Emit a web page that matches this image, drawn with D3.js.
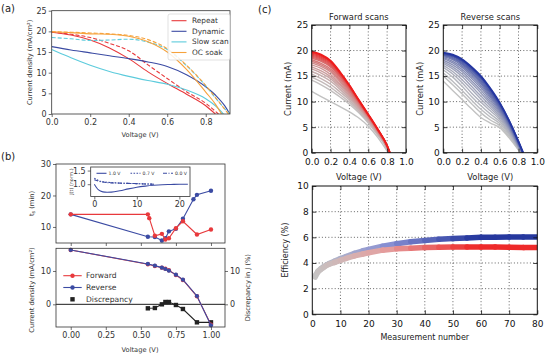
<!DOCTYPE html>
<html><head><meta charset="utf-8">
<script src="https://cdn.jsdelivr.net/npm/d3@7"></script>
<style>body{margin:0;background:#fff} svg{display:block} text{font-family:"DejaVu Sans",sans-serif}</style>
</head><body><svg id="c" width="552" height="355"></svg>
<script>
// ---------------- DATA ----------------
// (a)
const aLegend = ["Repeat","Dynamic","Slow scan","OC soak"];
const aColors = ["#e8393c","#3b4ba3","#5ccbdc","#f6a23c"];
const repeatSolid = [[0,19.8],[0.1,19.1],[0.2,17.9],[0.3,16.0],[0.4,13.4],[0.5,10.2],[0.6,7.4],[0.7,4.8],[0.8,2.0],[0.85,0]];
const repeatDashed = [[0,19.8],[0.1,19.3],[0.2,18.5],[0.3,17.1],[0.4,15.3],[0.5,11.9],[0.6,8.6],[0.7,5.4],[0.8,2.6],[0.866,0]];
const dynamicSolid = [[0,16.3],[0.1,15.5],[0.2,14.8],[0.3,14.1],[0.4,13.4],[0.5,12.6],[0.6,11.5],[0.7,9.5],[0.8,6.6],[0.85,4.6],[0.9,1.9],[0.925,0]];
const slowSolid = [[0,15.6],[0.05,14.6],[0.1,13.6],[0.2,11.8],[0.3,10.3],[0.4,9.1],[0.5,8.1],[0.6,7.2],[0.7,5.8],[0.8,3.7],[0.85,2.0],[0.892,0]];
const slowDashed = [[0,18.5],[0.1,18.2],[0.2,17.8],[0.3,17.9],[0.4,18.1],[0.5,17.4],[0.6,15.6],[0.7,11.7],[0.8,6.8],[0.85,3.9],[0.9,1.2],[0.925,0]];
const ocSolid = [[0,19.9],[0.1,19.7],[0.2,19.4],[0.3,19.3],[0.4,18.8],[0.5,17.5],[0.6,15.0],[0.7,10.8],[0.8,5.3],[0.85,2.4],[0.882,0]];
const ocDashed = [[0,19.9],[0.1,19.8],[0.2,19.6],[0.3,19.4],[0.4,19.0],[0.5,18.0],[0.6,15.8],[0.7,11.8],[0.8,6.9],[0.85,4.0],[0.9,1.1],[0.918,0]];
const aXTicks = [0,0.2,0.4,0.6,0.8];
const aYTicks = [0,5,10,15,20,25];

// (b) top: stabilisation time
const bVoltF = [0,0.55,0.56,0.6,0.65,0.675,0.7,0.75,0.8,0.9,1.0];
const bTsF = [14.0,14.0,12.8,7.2,7.8,6.0,6.4,9.6,11.8,7.6,9.2];
const bVoltR = [0,0.55,0.6,0.65,0.675,0.7,0.75,0.8,0.875,0.9,1.0];
const bTsR = [14.0,6.9,6.8,5.7,6.4,8.6,9.4,12.6,18.8,20.2,21.5];
// (b) inset
const insetT1 = [0,0.5,1,2,3,4,6,8,10,12,14,16,18,20,22];
const insetJ1 = [1.0,0.88,0.79,0.72,0.705,0.71,0.76,0.83,0.89,0.93,0.96,0.98,0.99,1.0,1.0];
const insetT07 = [0,1,2,3,4,6,8,10,12,14];
const insetJ07 = [1.22,1.13,1.09,1.07,1.06,1.04,1.03,1.02,1.01,1.0];
const insetT00 = [0,1,2,3,4,6,8,10,12,14];
const insetJ00 = [1.16,1.11,1.08,1.06,1.05,1.04,1.03,1.02,1.01,1.0];
const insetLabels = ["1.0 V","0.7 V","0.0 V"];
// (b) bottom
const bVoltJ = [0,0.55,0.6,0.65,0.675,0.7,0.75,0.8,0.9,1.0];
const bJF = [16.3,12.0,11.5,11.0,10.7,10.2,8.8,7.3,2.4,-6.1];
const bJR = [16.3,12.1,11.6,11.0,10.6,10.1,8.9,7.4,2.5,-6.3];
const bVoltD = [0.55,0.6,0.65,0.675,0.7,0.75,0.8,0.9,1.0];
const bDisc = [-1.2,-1.1,0.0,0.7,0.7,-0.2,-1.4,-5.4,-5.4];
const bXTicks = [0,0.25,0.5,0.75,1.0];
const bLegend = ["Forward","Reverse","Discrepancy"];

// (c) J-V scan families (V grid + per-scan currents + Voc)
const scanV = [0,0.1,0.2,0.3,0.4,0.5,0.6,0.7,0.8];
const fwdScans = [
 [12.0,11.0,10.0,9.0,8.0,6.8,5.2,3.0,0.3],
 [14.2,13.3,12.2,10.9,9.5,7.8,5.8,3.4,0.6],
 [14.8,13.9,12.8,11.4,9.9,8.1,6.0,3.6,0.7],
 [15.4,14.5,13.4,11.9,10.3,8.3,6.2,3.7,0.8],
 [15.9,15.1,14.0,12.4,10.6,8.6,6.4,3.8,0.85],
 [16.4,15.6,14.5,12.8,10.9,8.8,6.5,3.9,0.9],
 [16.8,16.0,14.9,13.2,11.2,9.0,6.7,4.0,1.0],
 [17.2,16.5,15.3,13.5,11.5,9.2,6.8,4.1,1.0],
 [17.6,16.9,15.8,13.9,11.7,9.4,6.9,4.2,1.1],
 [17.9,17.2,16.1,14.2,12.0,9.6,7.0,4.2,1.1],
 [18.2,17.5,16.4,14.5,12.2,9.7,7.1,4.3,1.2],
 [18.5,17.9,16.8,14.8,12.4,9.8,7.2,4.4,1.2],
 [18.7,18.1,17.0,15.0,12.6,9.9,7.2,4.4,1.2],
 [18.9,18.3,17.2,15.2,12.8,10.0,7.3,4.5,1.3],
 [19.1,18.5,17.4,15.4,12.9,10.1,7.3,4.5,1.3],
 [19.3,18.7,17.6,15.5,13.0,10.2,7.4,4.5,1.3],
 [19.5,18.9,17.8,15.6,13.1,10.2,7.4,4.6,1.4],
 [19.65,19.1,17.9,15.7,13.2,10.3,7.5,4.6,1.4],
 [19.8,19.2,18.0,15.8,13.2,10.3,7.5,4.6,1.4]
];
const fwdVoc = [0.81,0.812,0.814,0.816,0.818,0.82,0.82,0.822,0.822,0.824,0.824,0.825,0.826,0.827,0.828,0.828,0.829,0.83,0.83];
const revScans = [
 [14.0,12.2,10.4,8.6,6.9,5.8,4.9,2.9,0.5],
 [15.0,13.3,11.5,9.6,7.8,6.4,5.3,3.2,0.6],
 [15.6,14.0,12.2,10.3,8.5,7.0,5.7,3.5,0.7],
 [16.2,14.8,13.0,11.0,9.2,7.6,6.1,3.8,0.8],
 [16.7,15.4,13.7,11.7,9.9,8.2,6.5,4.0,0.9],
 [17.1,15.9,14.3,12.4,10.5,8.7,6.9,4.3,1.0],
 [17.5,16.4,14.9,13.0,11.1,9.2,7.2,4.5,1.1],
 [17.8,16.8,15.4,13.6,11.7,9.6,7.5,4.7,1.2],
 [18.1,17.2,15.9,14.1,12.2,10.0,7.8,4.9,1.3],
 [18.4,17.6,16.3,14.6,12.7,10.4,8.1,5.1,1.4],
 [18.6,17.9,16.7,15.0,13.1,10.8,8.3,5.3,1.5],
 [18.8,18.2,17.0,15.4,13.5,11.1,8.6,5.5,1.6],
 [19.0,18.4,17.3,15.7,13.8,11.4,8.8,5.6,1.7],
 [19.1,18.6,17.5,16.0,14.1,11.7,9.0,5.8,1.8],
 [19.2,18.8,17.7,16.2,14.4,11.9,9.2,5.9,1.9],
 [19.3,18.9,17.9,16.4,14.6,12.2,9.4,6.0,2.0],
 [19.4,19.0,18.0,16.6,14.8,12.4,9.6,6.2,2.1],
 [19.5,19.1,18.2,16.7,14.9,12.5,9.7,6.3,2.2],
 [19.6,19.2,18.3,16.8,15.0,12.6,9.8,6.3,2.2]
];
const revVoc = [0.82,0.822,0.824,0.826,0.828,0.83,0.832,0.834,0.836,0.838,0.84,0.842,0.843,0.844,0.845,0.846,0.847,0.848,0.85];
const cVTicks = [0,0.2,0.4,0.6,0.8,1.0];
const cJTicks = [0,5,10,15,20,25];
// (c) efficiency vs measurement number
const effN = [1,2,3,4,5,6,8,10,12,15,18,20,25,30,35,40,45,50,55,60,65,70,75,80];
const effF = [2.9,3.3,3.5,3.65,3.8,3.9,4.05,4.2,4.35,4.55,4.7,4.8,5.0,5.1,5.15,5.2,5.22,5.24,5.25,5.25,5.24,5.22,5.2,5.2];
const effR = [3.0,3.35,3.55,3.7,3.85,3.95,4.15,4.35,4.5,4.75,4.95,5.05,5.3,5.5,5.65,5.75,5.85,5.9,5.95,6.0,6.0,6.02,6.02,6.02];
const effXTicks = [0,10,20,30,40,50,60,70,80];
const effYTicks = [0,2,4,6,8,10];

// ---------------- DRAWING ----------------
const svg = d3.select("#c");
svg.append("rect").attr("width",552).attr("height",355).attr("fill","#fff");
const FONT_C = "DejaVu Sans";
const FONT_AB = "Liberation Sans";
const AX = "#333";
const TICK_AB = 8, LAB_AB = 6.7;
let clipId = 0;
function clip(x0,y0,x1,y1){
  const id = "clip"+(clipId++);
  svg.append("clipPath").attr("id",id).append("rect").attr("x",x0).attr("y",y0).attr("width",x1-x0).attr("height",y1-y0);
  return "url(#"+id+")";
}
function styleAxis(g, fs, color, sw, font){
  g.attr("font-family",font||FONT_AB).attr("font-size",fs);
  g.select(".domain").remove();
  g.selectAll("text").attr("fill",color);
  g.selectAll("line").attr("stroke",color).attr("stroke-width",sw||0.7);
}
function txt(x,y,s,fs,anchor,rot,fill,font){
  const t = svg.append("text").attr("x",x).attr("y",y).attr("font-size",fs).attr("text-anchor",anchor||"middle")
    .attr("dominant-baseline","central").attr("fill",fill||"#222").attr("font-family",font||FONT_AB).text(s);
  if(rot) t.attr("transform",`rotate(${rot},${x},${y})`);
  return t;
}
const pts = (xs,ys)=>xs.map((v,i)=>[v,ys[i]]);

// panel labels
txt(1,8,"(a)",10,"start",0,"#222",FONT_C);
txt(1,156,"(b)",10,"start",0,"#222",FONT_C);
txt(258,9,"(c)",10,"start",0,"#222",FONT_C);

// ===== (a) =====
{
  const L=51.7,R=230,T=10.7,B=114;
  const x=d3.scaleLinear([0,0.926],[L,R]), y=d3.scaleLinear([0,25],[B,T]);
  const gx=svg.append("g").attr("transform",`translate(0,${B})`)
    .call(d3.axisBottom(x).tickValues(aXTicks).tickFormat(d3.format(".1f")).tickSize(3).tickPadding(2));
  styleAxis(gx,TICK_AB,AX);
  const gy=svg.append("g").attr("transform",`translate(${L},0)`)
    .call(d3.axisLeft(y).tickValues(aYTicks).tickSize(3).tickPadding(2));
  styleAxis(gy,TICK_AB,AX);
  const cp=clip(L,T,R,B);
  const g=svg.append("g").attr("clip-path",cp);
  const ln=d3.line().x(d=>x(d[0])).y(d=>y(d[1])).curve(d3.curveMonotoneX);
  const series=[[repeatSolid,0,false],[repeatDashed,0,true],[dynamicSolid,1,false],[slowSolid,2,false],[slowDashed,2,true],[ocSolid,3,false],[ocDashed,3,true]];
  series.forEach(([d,c,dash])=>{
    g.append("path").attr("d",ln(d)).attr("fill","none").attr("stroke",aColors[c]).attr("stroke-width",1.1)
     .attr("stroke-dasharray",dash?"4,2":null);
  });
  svg.append("rect").attr("x",L).attr("y",T).attr("width",R-L).attr("height",B-T).attr("fill","none").attr("stroke",AX).attr("stroke-width",0.8);
  // legend
  svg.append("rect").attr("x",168).attr("y",14).attr("width",62).attr("height",46).attr("rx",2)
    .attr("fill","#fff").attr("fill-opacity",0.85).attr("stroke","#ccc").attr("stroke-width",0.6);
  aLegend.forEach((s,i)=>{
    const yy=20.7+i*10.6;
    svg.append("line").attr("x1",171.5).attr("x2",186.5).attr("y1",yy).attr("y2",yy).attr("stroke",aColors[i]).attr("stroke-width",1.1);
    txt(192,yy,s,7.4,"start",0,"#333");
  });
  txt(140,135,"Voltage (V)",LAB_AB,"middle",0,"#333");
  txt(30,62.4,"Current density (mA/cm²)",LAB_AB,"middle",-90,"#333");
}

// ===== (b) =====
const xb=d3.scaleLinear([-0.105,1.1],[56,225]);
const red="#e8393c", blue="#3b4ba3";
{
  // top panel
  const L=56,R=225,T=164,B=243;
  const y=d3.scaleLinear([4.9,30],[B,T]);
  const gx=svg.append("g").attr("transform",`translate(0,${B})`)
    .call(d3.axisBottom(xb).tickValues(bXTicks).tickFormat("").tickSize(3));
  styleAxis(gx,TICK_AB,AX);
  const gy=svg.append("g").attr("transform",`translate(${L},0)`)
    .call(d3.axisLeft(y).tickValues([10,20,30]).tickSize(3).tickPadding(2));
  styleAxis(gy,TICK_AB,AX);
  const ln=d3.line().x(d=>xb(d[0])).y(d=>y(d[1]));
  const g=svg.append("g");
  g.append("path").attr("d",ln(pts(bVoltR,bTsR))).attr("fill","none").attr("stroke",blue).attr("stroke-width",1.1);
  g.selectAll(null).data(pts(bVoltR,bTsR)).join("circle").attr("cx",d=>xb(d[0])).attr("cy",d=>y(d[1])).attr("r",2.2).attr("fill",blue);
  g.append("path").attr("d",ln(pts(bVoltF,bTsF))).attr("fill","none").attr("stroke",red).attr("stroke-width",1.1);
  g.selectAll(null).data(pts(bVoltF,bTsF)).join("circle").attr("cx",d=>xb(d[0])).attr("cy",d=>y(d[1])).attr("r",2.2).attr("fill",red);
  svg.append("rect").attr("x",L).attr("y",T).attr("width",R-L).attr("height",B-T).attr("fill","none").attr("stroke",AX).attr("stroke-width",0.8);
  txt(31.7,203.5,"",LAB_AB,"middle",-90,"#333").call(t=>{
    t.append("tspan").text("t");
    t.append("tspan").attr("font-size",5).attr("dy",1.6).text("s");
    t.append("tspan").attr("dy",-1.6).text(" (min)");
  });

  // inset
  const iL=90.7,iR=190,iT=167,iB=196.5;
  const xi=d3.scaleLinear([-0.85,22.5],[iL,iR]), yi=d3.scaleLinear([0.55,1.63],[iB,iT]);
  svg.append("rect").attr("x",iL).attr("y",iT).attr("width",iR-iL).attr("height",iB-iT).attr("fill","#fff");
  const gix=svg.append("g").attr("transform",`translate(0,${iB})`)
    .call(d3.axisBottom(xi).tickValues([0,10,20]).tickSize(3).tickPadding(2));
  styleAxis(gix,TICK_AB,AX);
  const giy=svg.append("g").attr("transform",`translate(${iL},0)`)
    .call(d3.axisLeft(yi).tickValues([1.0,1.5]).tickFormat(d3.format(".1f")).tickSize(3).tickPadding(2));
  styleAxis(giy,TICK_AB,AX);
  const li=d3.line().x(d=>xi(d[0])).y(d=>yi(d[1])).curve(d3.curveMonotoneX);
  const dashes=[null,"1.6,1.4","4,1.5,1,1.5"];
  const isets=[pts(insetT1,insetJ1),pts(insetT07,insetJ07),pts(insetT00,insetJ00)];
  isets.forEach((d,i)=>svg.append("path").attr("d",li(d)).attr("fill","none").attr("stroke",blue).attr("stroke-width",1.1).attr("stroke-dasharray",dashes[i]));
  const legX=[96.5,130.5,163];
  insetLabels.forEach((s,i)=>{
    svg.append("line").attr("x1",legX[i]).attr("x2",legX[i]+10).attr("y1",173.3).attr("y2",173.3).attr("stroke",blue).attr("stroke-width",1.1).attr("stroke-dasharray",dashes[i]);
    txt(legX[i]+12,173.3,s,4.6,"start",0,"#333");
  });
  svg.append("rect").attr("x",iL).attr("y",iT).attr("width",iR-iL).attr("height",iB-iT).attr("fill","none").attr("stroke",AX).attr("stroke-width",0.8);
  txt(71.5,181.5,"J(t) (norm.)",4.8,"middle",-90,"#333");
}
{
  // bottom panel
  const L=56,R=225,T=248.3,B=327;
  const y=d3.scaleLinear([-6.8,16.8],[B,T]);
  const gx=svg.append("g").attr("transform",`translate(0,${B})`)
    .call(d3.axisBottom(xb).tickValues(bXTicks).tickFormat(d3.format(".2f")).tickSize(3).tickPadding(2));
  styleAxis(gx,TICK_AB,AX);
  const gy=svg.append("g").attr("transform",`translate(${L},0)`)
    .call(d3.axisLeft(y).tickValues([0,10]).tickSize(3).tickPadding(2));
  styleAxis(gy,TICK_AB,AX);
  const gr=svg.append("g").attr("transform",`translate(${R},0)`)
    .call(d3.axisRight(y).tickValues([0,10]).tickSize(3).tickPadding(2));
  styleAxis(gr,TICK_AB,AX);
  svg.append("line").attr("x1",L).attr("x2",R).attr("y1",y(0)).attr("y2",y(0)).attr("stroke","#000").attr("stroke-width",0.9);
  const ln=d3.line().x(d=>xb(d[0])).y(d=>y(d[1]));
  const g=svg.append("g").attr("clip-path",clip(L-3,T-3,R+3,B+3));
  g.append("path").attr("d",ln(pts(bVoltD,bDisc))).attr("fill","none").attr("stroke","#222").attr("stroke-width",1.1);
  g.selectAll(null).data(pts(bVoltD,bDisc)).join("rect").attr("x",d=>xb(d[0])-2.2).attr("y",d=>y(d[1])-2.2).attr("width",4.4).attr("height",4.4).attr("fill","#222");
  g.append("path").attr("d",ln(pts(bVoltJ,bJF))).attr("fill","none").attr("stroke",red).attr("stroke-width",1.1);
  g.selectAll(null).data(pts(bVoltJ,bJF)).join("circle").attr("cx",d=>xb(d[0])).attr("cy",d=>y(d[1])).attr("r",2.2).attr("fill",red);
  g.append("path").attr("d",ln(pts(bVoltJ,bJR))).attr("fill","none").attr("stroke",blue).attr("stroke-width",1.1);
  g.selectAll(null).data(pts(bVoltJ,bJR)).join("circle").attr("cx",d=>xb(d[0])).attr("cy",d=>y(d[1])).attr("r",2.1).attr("fill",blue);
  svg.append("rect").attr("x",L).attr("y",T).attr("width",R-L).attr("height",B-T).attr("fill","none").attr("stroke",AX).attr("stroke-width",0.8);
  const lc=[red,blue,"#222"];
  bLegend.forEach((s,i)=>{
    const yy=275.7+i*11.8;
    if(i<2) svg.append("line").attr("x1",63.3).attr("x2",81.7).attr("y1",yy).attr("y2",yy).attr("stroke",lc[i]).attr("stroke-width",1.1);
    if(i<2) svg.append("circle").attr("cx",72.5).attr("cy",yy).attr("r",2.2).attr("fill",lc[i]);
    else svg.append("rect").attr("x",70.3).attr("y",yy-2.2).attr("width",4.4).attr("height",4.4).attr("fill",lc[i]);
    txt(86,yy,s,7.6,"start",0,"#333");
  });
  txt(140,350,"Voltage (V)",LAB_AB,"middle",0,"#333");
  txt(31.7,290,"Current density (mA/cm²)",LAB_AB,"middle",-90,"#333");
  txt(248,287.6,"Discrepancy in J (%)",LAB_AB,"middle",-90,"#333");
}

// ===== (c) =====
const TICK_C = 9;
function innerAxes(x,y,L,R,T,B,xt,yt,xf,yf){
  const gx=svg.append("g").attr("transform",`translate(0,${B})`).call(d3.axisBottom(x).tickValues(xt).tickFormat(xf).tickSizeInner(-4).tickSizeOuter(0).tickPadding(6));
  styleAxis(gx,TICK_C,"#111",0.8,FONT_C);
  const gt=svg.append("g").attr("transform",`translate(0,${T})`).call(d3.axisTop(x).tickValues(xt).tickFormat("").tickSizeInner(-4).tickSizeOuter(0));
  styleAxis(gt,TICK_C,"#111",0.8,FONT_C);
  const gy=svg.append("g").attr("transform",`translate(${L},0)`).call(d3.axisLeft(y).tickValues(yt).tickFormat(yf).tickSizeInner(-4).tickSizeOuter(0).tickPadding(3.5));
  styleAxis(gy,TICK_C,"#111",0.8,FONT_C);
  const gr=svg.append("g").attr("transform",`translate(${R},0)`).call(d3.axisRight(y).tickValues(yt).tickFormat("").tickSizeInner(-4).tickSizeOuter(0));
  styleAxis(gr,TICK_C,"#111",0.8,FONT_C);
  svg.append("rect").attr("x",L).attr("y",T).attr("width",R-L).attr("height",B-T).attr("fill","none").attr("stroke","#111").attr("stroke-width",1);
}
function grid(x,y,L,R,T,B,xt,yt){
  const g=svg.append("g").attr("stroke","#222").attr("stroke-width",0.7).attr("stroke-dasharray","1,2.2");
  xt.slice(1,-1).forEach(v=>g.append("line").attr("x1",x(v)).attr("x2",x(v)).attr("y1",T).attr("y2",B));
  yt.slice(1,-1).forEach(v=>g.append("line").attr("x1",L).attr("x2",R).attr("y1",y(v)).attr("y2",y(v)));
}
function scanPanel(L,R,title,curves,voc,cEnd){
  const T=25,B=152.7;
  const x=d3.scaleLinear([0,1],[L,R]), y=d3.scaleLinear([0,25],[B,T]);
  grid(x,y,L,R,T,B,cVTicks,cJTicks);
  const g=svg.append("g").attr("clip-path",clip(L,T,R,B));
  const ln=d3.line().x(d=>x(d[0])).y(d=>y(d[1])).curve(d3.curveMonotoneX);
  const n=curves.length;
  const col=d3.interpolateRgb("#c2c2c2",cEnd);
  curves.forEach((c,i)=>{
    const d=scanV.map((v,k)=>[v,c[k]]).concat([[voc[i],0]]);
    const t=i/(n-1);
    g.append("path").attr("d",ln(d)).attr("fill","none").attr("stroke",col(Math.pow(t,1.4)))
      .attr("stroke-width",i===n-1?1.8:1.4);
  });
  innerAxes(x,y,L,R,T,B,cVTicks,cJTicks,d3.format(".1f"),d3.format("d"));
  txt((L+R)/2,17,title,8.3,"middle",0,"#222",FONT_C);
  txt((L+R)/2,176.5,"Voltage (V)",8.3,"middle",0,"#222",FONT_C);
  txt(L-23.5,(T+B)/2,"Current (mA)",8.3,"middle",-90,"#222",FONT_C);
}
scanPanel(311.7,406,"Forward scans",fwdScans,fwdVoc,"#ee1c1c");
scanPanel(443.3,537.3,"Reverse scans",revScans,revVoc,"#2436a0");
{
  const L=312.3,R=537.3,T=186,B=314.3;
  const x=d3.scaleLinear([0,80],[L,R]), y=d3.scaleLinear([0,10],[B,T]);
  grid(x,y,L,R,T,B,effXTicks,effYTicks);
  const g=svg.append("g").attr("clip-path",clip(L,T,R,B));
  function band(vals,c1,cEnd){
    const col0=d3.interpolateRgb("#c4c4c4",c1);
    const col1=d3.interpolateRgb(c1,cEnd);
    for(let i=0;i<effN.length-1;i++){
      const t=effN[i]/80;
      const c = t<0.3 ? col0(t/0.3) : col1(Math.min(1,(t-0.3)/0.4));
      g.append("line").attr("x1",x(effN[i])).attr("y1",y(vals[i])).attr("x2",x(effN[i+1])).attr("y2",y(vals[i+1]))
        .attr("stroke",c).attr("stroke-width",5.5).attr("stroke-linecap","round");
    }
  }
  band(effR,"#8a92d4","#26389e");
  band(effF,"#e4a0a0","#ee2a2a");
  innerAxes(x,y,L,R,T,B,effXTicks,effYTicks,d3.format("d"),d3.format("d"));
  txt((L+R)/2,337,"Measurement number",8,"middle",0,"#222",FONT_C);
  txt(286,(T+B)/2,"Efficiency (%)",8,"middle",-90,"#222",FONT_C);
}
</script></body></html>
